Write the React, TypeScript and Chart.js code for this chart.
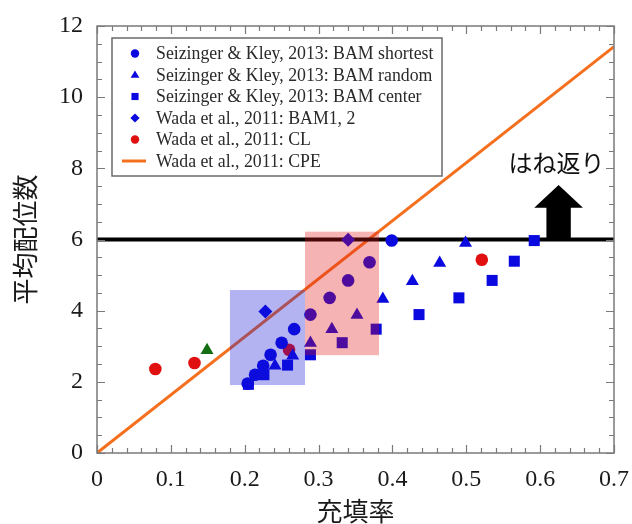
import React, { useEffect, useRef } from "react";
import { Chart, registerables } from "chart.js";

Chart.register(...registerables);

// ---- data ----
const shortestX = [0.204, 0.214, 0.225, 0.235, 0.25, 0.267, 0.289, 0.315, 0.34, 0.369, 0.399];
const shortestY = [1.95, 2.2, 2.45, 2.76, 3.1, 3.48, 3.89, 4.36, 4.85, 5.36, 5.97];
const randomX = [0.241, 0.265, 0.289, 0.318, 0.352, 0.387, 0.427, 0.464, 0.499];
const randomY = [2.45, 2.73, 3.09, 3.48, 3.88, 4.33, 4.83, 5.34, 5.9];
const centerX = [0.205, 0.226, 0.258, 0.289, 0.332, 0.378, 0.436, 0.49, 0.535, 0.565, 0.592];
const centerY = [1.93, 2.2, 2.47, 2.76, 3.1, 3.48, 3.89, 4.36, 4.85, 5.39, 5.97];
const wadaBamX = [0.228, 0.34];
const wadaBamY = [3.98, 5.99];
const wadaClX = [0.079, 0.132, 0.26, 0.521];
const wadaClY = [2.36, 2.53, 2.9, 5.43];
const cpeX = [0, 0.7];
const cpeY = [0, 11.42];
const greenX = [0.149];
const greenY = [2.89];
const bounceLineX = [0, 0.7];
const bounceLineY = [6, 6];

// shaded regions [xMin, xMax, yMin, yMax]
const blueBox = [0.18, 0.2816, 1.91, 4.58];
const redBox = [0.2816, 0.3818, 2.75, 6.22];

// arrow: [xCenter, shaftHalfWidth, headHalfWidth, baseY, headBaseY, tipY]
const arrowSpec = [0.625, 0.0165, 0.033, 6, 6.89, 7.53];
const arrowText = "はね返り";
const arrowTextPos = [0.622, 8.15];

const xTitle = "充填率";
const yTitle = "平均配位数";

const legendLabels = [
  "Seizinger & Kley, 2013: BAM shortest",
  "Seizinger & Kley, 2013: BAM random",
  "Seizinger & Kley, 2013: BAM center",
  "Wada et al., 2011: BAM1, 2",
  "Wada et al., 2011: CL",
  "Wada et al., 2011: CPE",
];

const BLUE = "#0a0ae0";
const RED = "#e01010";
const ORANGE = "#f4701e";
const GREEN = "#146e14";

const zip = (xs: number[], ys: number[]) => xs.map((x, i) => ({ x, y: ys[i] }));

const SERIF = "'Liberation Serif', 'Times New Roman', serif";
const CJK = "'Noto Sans CJK JP', 'Noto Sans', sans-serif";

function drawMarker(ctx: CanvasRenderingContext2D, kind: string, x: number, y: number, r: number, color: string) {
  ctx.save();
  ctx.fillStyle = color;
  ctx.beginPath();
  if (kind === "circle") {
    ctx.arc(x, y, r, 0, Math.PI * 2);
  } else if (kind === "triangle") {
    ctx.moveTo(x, y - r * 1.1);
    ctx.lineTo(x + r * 1.05, y + r * 0.65);
    ctx.lineTo(x - r * 1.05, y + r * 0.65);
    ctx.closePath();
  } else if (kind === "rect") {
    ctx.rect(x - r * 0.85, y - r * 0.85, r * 1.7, r * 1.7);
  } else if (kind === "rectRot") {
    ctx.moveTo(x, y - r * 1.1);
    ctx.lineTo(x + r * 1.1, y);
    ctx.lineTo(x, y + r * 1.1);
    ctx.lineTo(x - r * 1.1, y);
    ctx.closePath();
  }
  ctx.fill();
  ctx.restore();
}

const overlayPlugin = {
  id: "overlay",
  afterDatasetsDraw(chart: any) {
    const { ctx, chartArea } = chart;
    const xs = chart.scales.x;
    const ys = chart.scales.y;
    const px = (v: number) => xs.getPixelForValue(v);
    const py = (v: number) => ys.getPixelForValue(v);

    // shaded boxes
    ctx.save();
    ctx.fillStyle = "rgba(20,20,215,0.32)";
    ctx.fillRect(px(blueBox[0]), py(blueBox[3]), px(blueBox[1]) - px(blueBox[0]), py(blueBox[2]) - py(blueBox[3]));
    ctx.fillStyle = "rgba(225,20,20,0.32)";
    ctx.fillRect(px(redBox[0]), py(redBox[3]), px(redBox[1]) - px(redBox[0]), py(redBox[2]) - py(redBox[3]));
    ctx.restore();

    // arrow
    const [cx, sw, hw, by, hy, ty] = arrowSpec;
    ctx.save();
    ctx.fillStyle = "#000";
    ctx.beginPath();
    ctx.moveTo(px(cx - sw), py(by));
    ctx.lineTo(px(cx - sw), py(hy));
    ctx.lineTo(px(cx - hw), py(hy));
    ctx.lineTo(px(cx), py(ty));
    ctx.lineTo(px(cx + hw), py(hy));
    ctx.lineTo(px(cx + sw), py(hy));
    ctx.lineTo(px(cx + sw), py(by));
    ctx.closePath();
    ctx.fill();
    ctx.font = `24px ${CJK}`;
    ctx.fillStyle = "#111";
    ctx.textAlign = "center";
    ctx.textBaseline = "middle";
    ctx.fillText(arrowText, px(arrowTextPos[0]), py(arrowTextPos[1]));
    ctx.restore();

    // frame + inward ticks
    const { left, right, top, bottom } = chartArea;
    ctx.save();
    ctx.strokeStyle = "#7a7a7a";
    ctx.lineWidth = 1.5;
    ctx.strokeRect(left, top, right - left, bottom - top);
    ctx.lineWidth = 1.2;
    ctx.beginPath();
    for (let i = 0; i <= 35; i++) {
      const v = i * 0.02;
      const major = i % 5 === 0;
      const len = major ? 8 : 5;
      const x = Math.round(px(v)) + 0.5;
      ctx.moveTo(x, bottom);
      ctx.lineTo(x, bottom - len);
      ctx.moveTo(x, top);
      ctx.lineTo(x, top + len);
    }
    for (let i = 0; i <= 24; i++) {
      const v = i * 0.5;
      const major = i % 4 === 0;
      const len = major ? 8 : 5;
      const y = Math.round(py(v)) + 0.5;
      ctx.moveTo(left, y);
      ctx.lineTo(left + len, y);
      ctx.moveTo(right, y);
      ctx.lineTo(right - len, y);
    }
    ctx.stroke();
    ctx.restore();

    // legend
    const lx = left + 15;
    const ly = top + 12;
    const lw = 330;
    const lh = 138;
    ctx.save();
    ctx.fillStyle = "#fff";
    ctx.fillRect(lx, ly, lw, lh);
    ctx.strokeStyle = "#6a6a6a";
    ctx.lineWidth = 1.5;
    ctx.strokeRect(lx, ly, lw, lh);
    const kinds = ["circle", "triangle", "rect", "rectRot", "circle", "line"];
    const colors = [BLUE, BLUE, BLUE, BLUE, RED, ORANGE];
    ctx.font = `17.8px ${SERIF}`;
    ctx.textBaseline = "middle";
    ctx.textAlign = "left";
    legendLabels.forEach((lab, i) => {
      const yy = ly + 15.5 + i * 21.5;
      const mx = lx + 23;
      if (kinds[i] === "line") {
        ctx.strokeStyle = ORANGE;
        ctx.lineWidth = 3;
        ctx.beginPath();
        ctx.moveTo(mx - 13, yy);
        ctx.lineTo(mx + 11, yy);
        ctx.stroke();
      } else {
        drawMarker(ctx, kinds[i], mx, yy, 4.2, colors[i]);
      }
      ctx.fillStyle = "#2a2a2a";
      ctx.fillText(lab, lx + 44, yy + 1);
    });
    ctx.restore();
  },
};

export default function App() {
  const ref = useRef<HTMLCanvasElement | null>(null);

  useEffect(() => {
    if (!ref.current) return;
    const chart = new Chart(ref.current, {
      type: "scatter",
      data: {
        datasets: [
          {
            label: legendLabels[0],
            data: zip(shortestX, shortestY),
            pointStyle: "circle",
            pointRadius: 6.3,
            backgroundColor: BLUE,
            borderWidth: 0,
          },
          {
            label: legendLabels[1],
            data: zip(randomX, randomY),
            pointStyle: "triangle",
            pointRadius: 7.5,
            backgroundColor: BLUE,
            borderWidth: 0,
          },
          {
            label: legendLabels[2],
            data: zip(centerX, centerY),
            pointStyle: "rect",
            pointRadius: 7.8,
            backgroundColor: BLUE,
            borderWidth: 0,
          },
          {
            label: legendLabels[3],
            data: zip(wadaBamX, wadaBamY),
            pointStyle: "rectRot",
            pointRadius: 7,
            backgroundColor: BLUE,
            borderWidth: 0,
          },
          {
            label: legendLabels[4],
            data: zip(wadaClX, wadaClY),
            pointStyle: "circle",
            pointRadius: 6.3,
            backgroundColor: RED,
            borderWidth: 0,
          },
          {
            label: "green",
            data: zip(greenX, greenY),
            pointStyle: "triangle",
            pointRadius: 7.5,
            backgroundColor: GREEN,
            borderWidth: 0,
          },
          {
            label: "bounce",
            data: zip(bounceLineX, bounceLineY),
            showLine: true,
            borderColor: "#000",
            borderWidth: 4,
            pointRadius: 0,
          },
          {
            label: legendLabels[5],
            data: zip(cpeX, cpeY),
            showLine: true,
            borderColor: ORANGE,
            borderWidth: 3,
            pointRadius: 0,
          },
        ],
      },
      options: {
        responsive: false,
        animation: false,
        devicePixelRatio: 1,
        layout: { padding: { top: 26, right: 18, left: 0, bottom: 0 } },
        plugins: {
          legend: { display: false },
          tooltip: { enabled: false },
        },
        scales: {
          x: {
            type: "linear",
            min: 0,
            max: 0.7,
            afterFit: (s: any) => {
              s.height = 71;
              s.paddingLeft = 0;
              s.paddingRight = 0;
            },
            grid: { display: false, drawTicks: false },
            border: { display: false },
            ticks: {
              stepSize: 0.1,
              padding: 12,
              color: "#1a1a1a",
              font: { family: SERIF, size: 24 },
              callback: (v: any) => String(Math.round(Number(v) * 10) / 10),
            },
            title: {
              display: true,
              text: xTitle,
              color: "#1a1a1a",
              font: { family: CJK, size: 26, lineHeight: 1 },
              padding: { top: 0, bottom: 0 },
            },
          },
          y: {
            type: "linear",
            min: 0,
            max: 12,
            afterFit: (s: any) => {
              s.width = 97;
              s.paddingTop = 0;
              s.paddingBottom = 0;
            },
            grid: { display: false, drawTicks: false },
            border: { display: false },
            ticks: {
              stepSize: 2,
              padding: 14,
              color: "#1a1a1a",
              font: { family: SERIF, size: 24 },
            },
            title: {
              display: true,
              text: yTitle,
              color: "#1a1a1a",
              font: { family: CJK, size: 26, lineHeight: 1 },
              padding: { top: 12, bottom: 0 },
            },
          },
        },
      },
      plugins: [overlayPlugin],
    } as any);
    return () => chart.destroy();
  }, []);

  return (
    <div style={{ position: "fixed", left: 0, top: 0, width: 632, height: 524, background: "#fff" }}>
      <canvas ref={ref} width={632} height={524} style={{ width: 632, height: 524, display: "block" }} />
    </div>
  );
}
